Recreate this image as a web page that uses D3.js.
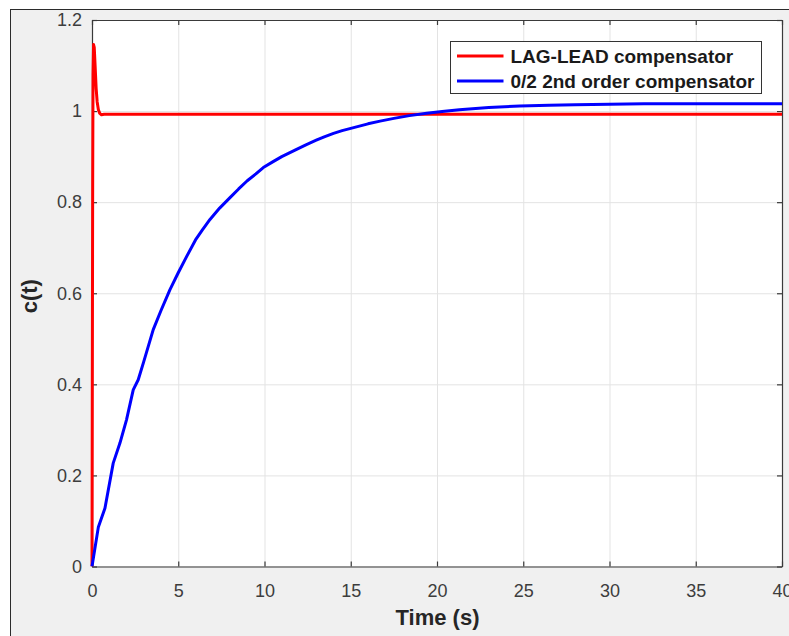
<!DOCTYPE html>
<html>
<head>
<meta charset="utf-8">
<script src="https://cdn.jsdelivr.net/npm/d3@7"></script>
<style>
  html, body { margin: 0; padding: 0; background: #ffffff; }
  svg { display: block; }
  text { font-family: "Liberation Sans", Arial, Helvetica, sans-serif; }
</style>
</head>
<body>
<svg id="chart" width="789" height="636"></svg>
<script>
// Step responses of the two compensated systems
const leadLagTime = [0, 0.02, 0.04, 0.06, 0.09, 0.13, 0.18, 0.24, 0.3, 0.37, 0.45, 0.55, 0.7, 1.0, 2.0, 10, 20, 30, 40];
const leadLagC    = [0, 0.45, 0.85, 1.08, 1.146, 1.14, 1.1, 1.05, 1.02, 1.003, 0.995, 0.992, 0.993, 0.993, 0.993, 0.993, 0.993, 0.993, 0.993];

const secondOrderTime = [0, 0.37, 0.75, 1.23, 1.62, 2.0, 2.39, 2.68, 3.0, 3.55, 4.0, 4.52, 5.0, 5.49, 6.0, 6.4, 6.84, 7.4, 8.0, 8.5, 9.0, 9.5, 9.93, 10.5, 11.0, 11.8, 12.4, 13.0, 13.5, 14.0, 14.5, 15.0, 16.0, 16.7, 17.5, 18.4, 19.4, 20.3, 21.3, 23.0, 24.8, 26.5, 28.0, 32.0, 36.0, 40.0];
const secondOrderC    = [0, 0.087, 0.128, 0.227, 0.271, 0.322, 0.388, 0.41, 0.45, 0.52, 0.562, 0.608, 0.645, 0.681, 0.717, 0.739, 0.762, 0.787, 0.81, 0.829, 0.847, 0.862, 0.876, 0.889, 0.9, 0.915, 0.926, 0.936, 0.944, 0.951, 0.957, 0.962, 0.972, 0.978, 0.984, 0.99, 0.995, 0.999, 1.003, 1.008, 1.011, 1.013, 1.014, 1.016, 1.016, 1.016];

const xTicks = [0, 5, 10, 15, 20, 25, 30, 35, 40];
const xTickLabels = ["0", "5", "10", "15", "20", "25", "30", "35", "40"];
const yTicks = [0, 0.2, 0.4, 0.6, 0.8, 1.0, 1.2];
const yTickLabels = ["0", "0.2", "0.4", "0.6", "0.8", "1", "1.2"];

const seriesNames = ["LAG-LEAD compensator", "0/2 2nd order compensator"];
const seriesColors = ["#ff0000", "#0000ff"];

const svg = d3.select("#chart");

// figure window panel
svg.append("rect")
  .attr("x", 10.5).attr("y", 9.5)
  .attr("width", 800).attr("height", 640)
  .attr("fill", "#f0f0f0")
  .attr("stroke", "#2b2b2b")
  .attr("stroke-width", 1);

const plot = { left: 92, top: 20, right: 782, bottom: 566.5 };
const W = plot.right - plot.left;
const H = plot.bottom - plot.top;

const x = d3.scaleLinear().domain([0, 40]).range([0, W]);
const y = d3.scaleLinear().domain([0, 1.2]).range([H, 0]);

const g = svg.append("g").attr("transform", `translate(${plot.left},${plot.top})`);

g.append("rect").attr("width", W).attr("height", H).attr("fill", "#ffffff");

// grid
g.append("g").attr("class", "grid")
  .attr("transform", `translate(0,${H})`)
  .call(d3.axisBottom(x).tickValues(xTicks).tickSize(-H).tickFormat(""));
g.append("g").attr("class", "grid")
  .call(d3.axisLeft(y).tickValues(yTicks).tickSize(-W).tickFormat(""));
g.selectAll(".grid .domain").remove();
g.selectAll(".grid line").attr("stroke", "#e3e3e3").attr("stroke-width", 1);

// axes box with inward ticks
const tickLen = 5;
const fmtX = (d, i) => xTickLabels[i];
const fmtY = (d, i) => yTickLabels[i];

const axB = g.append("g").attr("transform", `translate(0,${H})`)
  .call(d3.axisBottom(x).tickValues(xTicks).tickFormat(fmtX).tickSizeInner(-tickLen).tickSizeOuter(0).tickPadding(18));
const axT = g.append("g")
  .call(d3.axisTop(x).tickValues(xTicks).tickFormat("").tickSizeInner(-tickLen).tickSizeOuter(0));
const axL = g.append("g")
  .call(d3.axisLeft(y).tickValues(yTicks).tickFormat(fmtY).tickSizeInner(-tickLen).tickSizeOuter(0).tickPadding(10));
const axR = g.append("g").attr("transform", `translate(${W},0)`)
  .call(d3.axisRight(y).tickValues(yTicks).tickFormat("").tickSizeInner(-tickLen).tickSizeOuter(0));

[axB, axT, axL, axR].forEach(a => {
  a.select(".domain").attr("stroke", "#3a3a3a").attr("stroke-width", 1.2);
  a.selectAll(".tick line").attr("stroke", "#3a3a3a").attr("stroke-width", 1.2);
  a.selectAll(".tick text")
    .attr("fill", "#3d3d3d")
    .attr("font-size", 18)
    .attr("font-family", "'Liberation Sans', Arial, Helvetica, sans-serif");
});

// data lines (clip leaves room for the stroke along the left edge)
g.append("clipPath").attr("id", "plotclip")
  .append("rect").attr("x", -2).attr("width", W + 2).attr("height", H);

const line = d3.line().x(d => x(d[0])).y(d => y(d[1]));
const series = [
  d3.zip(leadLagTime, leadLagC),
  d3.zip(secondOrderTime, secondOrderC)
];

const lines = g.append("g").attr("clip-path", "url(#plotclip)");
series.forEach((s, i) => {
  lines.append("path")
    .datum(s)
    .attr("d", line)
    .attr("fill", "none")
    .attr("stroke", seriesColors[i])
    .attr("stroke-width", 3)
    .attr("stroke-linejoin", "round");
});

// axis labels
svg.append("text")
  .attr("x", (plot.left + plot.right) / 2 + 0.5)
  .attr("y", 625)
  .attr("text-anchor", "middle")
  .attr("font-size", 22)
  .attr("font-weight", "bold")
  .attr("fill", "#262626")
  .text("Time (s)");

svg.append("text")
  .attr("transform", `translate(37,${(plot.top + plot.bottom) / 2 + 3}) rotate(-90)`)
  .attr("text-anchor", "middle")
  .attr("font-size", 22)
  .attr("font-weight", "bold")
  .attr("fill", "#262626")
  .text("c(t)");

// legend
const legend = svg.append("g").attr("transform", "translate(450.5,41.5)");
legend.append("rect")
  .attr("width", 311).attr("height", 52)
  .attr("fill", "#ffffff")
  .attr("stroke", "#333333")
  .attr("stroke-width", 1);
seriesNames.forEach((name, i) => {
  const cy = 14.5 + i * 25;
  legend.append("line")
    .attr("x1", 6.5).attr("x2", 53)
    .attr("y1", cy).attr("y2", cy)
    .attr("stroke", seriesColors[i])
    .attr("stroke-width", 3);
  legend.append("text")
    .attr("x", 60)
    .attr("y", cy + 7)
    .attr("font-size", 19)
    .attr("font-weight", "bold")
    .attr("fill", "#1a1a1a")
    .text(name);
});
</script>
</body>
</html>
